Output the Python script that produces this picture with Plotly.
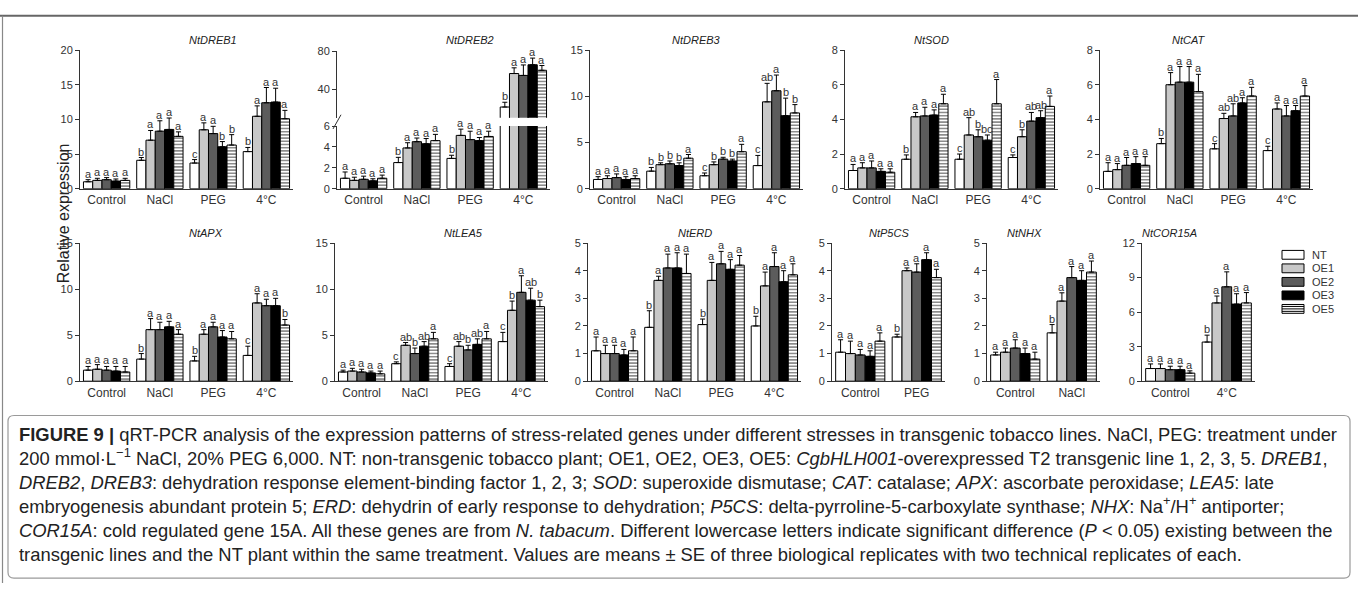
import plotly.graph_objects as go

W, H = 1358, 589

# ---------------- data ----------------
LINES = ["NT", "OE1", "OE2", "OE3", "OE5"]
CATS_ALL = ["Control", "NaCl", "PEG", "4°C"]
CATS_P5CS = ["Control", "PEG"]
CATS_NHX = ["Control", "NaCl"]
CATS_COR = ["Control", "4°C"]

# rows: NT, OE1, OE2, OE3, OE5 ; columns: categories
DREB1_MEAN = [[1.0, 4.1, 3.7, 5.35], [1.2, 7.0, 8.5, 10.45], [1.3, 8.3, 7.95, 12.4], [1.1, 8.55, 6.05, 12.5], [1.2, 7.55, 6.3, 10.1]]
DREB1_ERR = [[0.3, 0.4, 0.5, 0.6], [0.3, 1.4, 1.0, 1.5], [0.3, 1.5, 1.05, 2.2], [0.3, 1.65, 0.75, 2.0], [0.3, 0.65, 1.5, 1.2]]
DREB1_SIG = [["a", "b", "c", "b"], ["a", "a", "a", "a"], ["a", "a", "a", "a"], ["a", "a", "b", "a"], ["a", "a", "b", "a"]]

DREB2_MEAN = [[1.0, 2.5, 2.9, 21.2], [0.8, 3.9, 5.1, 56.4], [0.9, 4.5, 4.7, 54.4], [0.75, 4.3, 4.6, 65.6], [1.0, 4.6, 5.0, 59.8]]
DREB2_ERR = [[0.6, 0.5, 0.3, 5.0], [0.3, 0.5, 0.6, 6.0], [0.3, 0.35, 0.8, 11.0], [0.2, 0.5, 0.3, 7.0], [0.3, 0.6, 0.5, 5.0]]
DREB2_SIG = [["a", "b", "b", "b"], ["a", "a", "a", "a"], ["a", "a", "a", "a"], ["a", "a", "a", "a"], ["a", "a", "a", "a"]]

DREB3_MEAN = [[1.0, 1.9, 1.4, 2.5], [1.1, 2.6, 2.6, 9.4], [1.2, 2.7, 3.2, 10.6], [1.0, 2.5, 3.0, 7.9], [1.1, 3.3, 4.0, 8.2]]
DREB3_ERR = [[0.3, 0.4, 0.3, 1.1], [0.3, 0.2, 0.3, 2.0], [0.4, 0.3, 0.2, 1.7], [0.3, 0.3, 0.2, 1.9], [0.3, 0.4, 0.8, 0.9]]
DREB3_SIG = [["a", "b", "c", "c"], ["a", "b", "b", "ab"], ["a", "b", "b", "a"], ["a", "b", "b", "b"], ["a", "a", "a", "b"]]

SOD_MEAN = [[1.05, 1.7, 1.7, 1.8], [1.2, 4.15, 3.1, 3.0], [1.2, 4.2, 3.0, 3.9], [1.0, 4.25, 2.8, 4.1], [0.95, 4.9, 4.9, 4.75]]
SOD_ERR = [[0.35, 0.25, 0.3, 0.15], [0.3, 0.25, 1.0, 0.4], [0.4, 0.5, 0.4, 0.5], [0.15, 0.3, 0.3, 0.4], [0.2, 0.55, 1.4, 0.6]]
SOD_SIG = [["a", "b", "c", "c"], ["a", "a", "ab", "b"], ["a", "a", "b", "ab"], ["a", "a", "bc", "ab"], ["a", "a", "a", "a"]]

CAT_MEAN = [[1.0, 2.6, 2.3, 2.2], [1.1, 6.0, 4.05, 4.6], [1.35, 6.15, 4.2, 4.2], [1.45, 6.15, 4.95, 4.5], [1.35, 5.6, 5.35, 5.35]]
CAT_ERR = [[0.5, 0.3, 0.3, 0.25], [0.35, 0.7, 0.3, 0.35], [0.45, 0.9, 0.7, 0.6], [0.4, 0.9, 0.3, 0.3], [0.5, 1.0, 0.5, 0.6]]
CAT_SIG = [["a", "b", "c", "c"], ["a", "a", "ab", "a"], ["a", "a", "ab", "a"], ["a", "a", "a", "a"], ["a", "a", "a", "a"]]

APX_MEAN = [[1.2, 2.4, 2.2, 2.8], [1.3, 5.6, 5.1, 8.5], [1.2, 5.6, 5.9, 8.2], [1.1, 5.9, 4.8, 8.2], [1.0, 5.1, 4.6, 6.1]]
APX_ERR = [[0.4, 0.6, 0.5, 1.0], [0.5, 1.2, 0.5, 1.0], [0.4, 0.8, 0.5, 0.7], [0.5, 0.6, 0.7, 0.8], [0.6, 0.5, 0.8, 0.6]]
APX_SIG = [["a", "b", "b", "c"], ["a", "a", "a", "a"], ["a", "a", "a", "a"], ["a", "a", "a", "a"], ["a", "a", "a", "b"]]

LEA5_MEAN = [[1.0, 1.9, 1.6, 4.3], [1.1, 3.9, 3.8, 7.7], [1.0, 3.0, 3.4, 9.65], [0.9, 3.8, 4.0, 8.8], [0.8, 4.6, 4.6, 8.1]]
LEA5_ERR = [[0.2, 0.2, 0.3, 1.0], [0.3, 0.3, 0.5, 1.0], [0.3, 0.6, 0.5, 1.8], [0.2, 0.5, 0.6, 1.3], [0.3, 0.7, 0.8, 0.7]]
LEA5_SIG = [["a", "c", "c", "c"], ["a", "ab", "ab", "b"], ["a", "b", "b", "a"], ["a", "ab", "ab", "ab"], ["a", "a", "a", "b"]]

ERD_MEAN = [[1.1, 1.95, 2.05, 2.0], [1.0, 3.65, 3.65, 3.45], [1.0, 4.1, 4.25, 4.15], [0.95, 4.1, 4.05, 3.6], [1.1, 3.9, 4.2, 3.85]]
ERD_ERR = [[0.5, 0.6, 0.2, 0.35], [0.3, 0.15, 0.65, 0.5], [0.3, 0.5, 0.45, 0.5], [0.2, 0.55, 0.35, 0.4], [0.5, 0.7, 0.35, 0.4]]
ERD_SIG = [["a", "b", "b", "b"], ["a", "a", "a", "a"], ["a", "a", "a", "a"], ["a", "a", "a", "a"], ["a", "a", "a", "a"]]

P5CS_MEAN = [[1.05, 1.6], [1.0, 4.0], [0.95, 3.95], [0.9, 4.4], [1.45, 3.75]]
P5CS_ERR = [[0.45, 0.1], [0.45, 0.1], [0.2, 0.3], [0.2, 0.25], [0.3, 0.3]]
P5CS_SIG = [["a", "b"], ["a", "a"], ["a", "a"], ["a", "a"], ["a", "a"]]

NHX_MEAN = [[0.95, 1.75], [1.05, 2.9], [1.2, 3.75], [1.0, 3.65], [0.8, 3.95]]
NHX_ERR = [[0.1, 0.3], [0.15, 0.3], [0.3, 0.4], [0.2, 0.35], [0.25, 0.4]]
NHX_SIG = [["a", "b"], ["a", "a"], ["a", "a"], ["a", "a"], ["a", "a"]]

COR_MEAN = [[1.1, 3.4], [1.1, 6.8], [1.0, 8.2], [1.0, 6.7], [0.7, 6.8]]
COR_ERR = [[0.4, 0.6], [0.4, 0.6], [0.3, 1.3], [0.3, 0.9], [0.2, 0.9]]
COR_SIG = [["a", "b"], ["a", "a"], ["a", "a"], ["a", "a"], ["a", "a"]]

CAPTION = [
    "<b>FIGURE 9 |</b> qRT-PCR analysis of the expression patterns of stress-related genes under different stresses in transgenic tobacco lines. NaCl, PEG: treatment under",
    "200 mmol·L<sup>−1</sup> NaCl, 20% PEG 6,000. NT: non-transgenic tobacco plant; OE1, OE2, OE3, OE5: <i>CgbHLH001</i>-overexpressed T2 transgenic line 1, 2, 3, 5. <i>DREB1</i>,",
    "<i>DREB2</i>, <i>DREB3</i>: dehydration response element-binding factor 1, 2, 3; <i>SOD</i>: superoxide dismutase; <i>CAT</i>: catalase; <i>APX</i>: ascorbate peroxidase; <i>LEA5</i>: late",
    "embryogenesis abundant protein 5; <i>ERD</i>: dehydrin of early response to dehydration; <i>P5CS</i>: delta-pyrroline-5-carboxylate synthase; <i>NHX</i>: Na<sup>+</sup>/H<sup>+</sup> antiporter;",
    "<i>COR15A</i>: cold regulated gene 15A. All these genes are from <i>N. tabacum</i>. Different lowercase letters indicate significant difference (<i>P</i> &lt; 0.05) existing between the",
    "transgenic lines and the NT plant within the same treatment. Values are means ± SE of three biological replicates with two technical replicates of each.",
]

# ---------------- styles / layout ----------------
FONT = "Arial, Liberation Sans, Helvetica, sans-serif"
FILL = ["#ffffff", "#c8c8c8", "#5c5c5c", "#000000", "#ffffff"]
PATTERN = ["", "", "", "", "-"]
AXC = "#333333"
BARGAP = 0.13

TOP = (186.5, 45.0)   # pixel y of zero, pixel y of axis maximum
BOT = (383.0, 242.0)

# title, cats, mean, err, sig, ymax, dtick, x-left px, x-right px, row
PANELS = [
    ("NtDREB1", CATS_ALL, DREB1_MEAN, DREB1_ERR, DREB1_SIG, 20, 5, 80, 293, TOP),
    ("NtDREB2", CATS_ALL, DREB2_MEAN, DREB2_ERR, DREB2_SIG, None, None, 337, 550, TOP),
    ("NtDREB3", CATS_ALL, DREB3_MEAN, DREB3_ERR, DREB3_SIG, 15, 5, 590, 803, TOP),
    ("NtSOD", CATS_ALL, SOD_MEAN, SOD_ERR, SOD_SIG, 8, 2, 845, 1058, TOP),
    ("NtCAT", CATS_ALL, CAT_MEAN, CAT_ERR, CAT_SIG, 8, 2, 1100, 1313, TOP),
    ("NtAPX", CATS_ALL, APX_MEAN, APX_ERR, APX_SIG, 15, 5, 80, 293, BOT),
    ("NtLEA5", CATS_ALL, LEA5_MEAN, LEA5_ERR, LEA5_SIG, 15, 5, 335, 548, BOT),
    ("NtERD", CATS_ALL, ERD_MEAN, ERD_ERR, ERD_SIG, 5, 1, 588, 801, BOT),
    ("NtP5CS", CATS_P5CS, P5CS_MEAN, P5CS_ERR, P5CS_SIG, 5, 1, 832, 945, BOT),
    ("NtNHX", CATS_NHX, NHX_MEAN, NHX_ERR, NHX_SIG, 5, 1, 987, 1100, BOT),
    ("NtCOR15A", CATS_COR, COR_MEAN, COR_ERR, COR_SIG, 12, 3, 1142, 1255, BOT),
]

# broken axis of NtDREB2: lower segment / upper segment
DREB2_LOW = (0, 6, 2)
DREB2_HIGH = (10, 80, [40, 80])
DREB2_LOW_TOP_PX = 122.5
DREB2_HIGH_BOT_PX = 114.0
DREB2_HIGH_TOP_PX = 46.0

LEGEND_X, LEGEND_Y0, LEGEND_DY = 1282, 254, 13.8


def px(x):
    return x / W


def py(y):
    return 1 - y / H


fig = go.Figure()
layout = {}
annotations = []
shapes = []
counter = {"x": 0, "y": 0}


def new_axis(kind):
    counter[kind] += 1
    n = counter[kind]
    return ("%s%d" % (kind, n)) if n > 1 else kind, ("%saxis%d" % (kind, n)) if n > 1 else ("%saxis" % kind)


def yaxis_style(dom, rng, **kw):
    d = dict(domain=dom, range=rng, showline=True, linecolor=AXC, linewidth=1,
             ticks="outside", ticklen=4, tickwidth=1, tickcolor=AXC,
             tickfont=dict(family=FONT, size=11, color=AXC),
             showgrid=False, zeroline=False, fixedrange=True)
    d.update(kw)
    return d


for (title, cats, mean, err, sig, ymax, dtick, x0, x1, row) in PANELS:
    xid, xkey = new_axis("x")
    yid, ykey = new_axis("y")
    n = len(cats)
    layout[xkey] = dict(domain=[px(x0), px(x1)], anchor=yid, type="category",
                        categoryorder="array", categoryarray=cats, range=[-0.5, n - 0.5],
                        showline=True, linecolor=AXC, linewidth=1, ticks="",
                        tickfont=dict(family=FONT, size=12, color=AXC),
                        showgrid=False, zeroline=False, fixedrange=True)
    split = ymax is None
    if not split:
        layout[ykey] = yaxis_style([py(row[0]), py(row[1])], [0, ymax], dtick=dtick, tick0=0)
        yrefs = [(yid, 0, ymax)]
    else:
        layout[ykey] = yaxis_style([py(row[0]), py(DREB2_LOW_TOP_PX)], [DREB2_LOW[0], DREB2_LOW[1]],
                                   dtick=DREB2_LOW[2], tick0=0)
        yid2, ykey2 = new_axis("y")
        layout[ykey2] = yaxis_style([py(DREB2_HIGH_BOT_PX), py(DREB2_HIGH_TOP_PX)],
                                    [DREB2_HIGH[0], DREB2_HIGH[1]], tickmode="array",
                                    tickvals=DREB2_HIGH[2], anchor=xid)
        yrefs = [(yid, DREB2_LOW[0], DREB2_LOW[1]), (yid2, DREB2_HIGH[0], DREB2_HIGH[1])]
        # break mark
        shapes.append(dict(type="line", xref="paper", yref="paper",
                           x0=px(x0 - 4), y0=py(DREB2_LOW_TOP_PX + 3), x1=px(x0 + 4), y1=py(DREB2_HIGH_BOT_PX - 3),
                           line=dict(color=AXC, width=1)))
    layout[ykey]["anchor"] = xid

    for k, (yr, lo, hi) in enumerate(yrefs):
        for i, line in enumerate(LINES):
            marker = dict(color=FILL[i], line=dict(color="black", width=1))
            if PATTERN[i]:
                marker["pattern"] = dict(shape=PATTERN[i], fgcolor="black", bgcolor="white",
                                         size=3.2, solidity=0.45)
            fig.add_trace(go.Bar(
                x=cats, y=mean[i], name=line, showlegend=False,
                marker=marker,
                error_y=dict(type="data", symmetric=False, array=err[i], arrayminus=[0] * n,
                             color="black", thickness=1, width=2.5),
                xaxis=xid, yaxis=yr, hoverinfo="skip"))

    # significance letters
    bw = (x1 - x0) / n * (1 - BARGAP) / 5
    for i in range(5):
        for j in range(n):
            top = mean[i][j] + err[i][j]
            yr = yrefs[0][0]
            if split and top > DREB2_LOW[1]:
                yr = yrefs[1][0]
            annotations.append(dict(x=cats[j], y=top, xref=xid, yref=yr, text=sig[i][j],
                                    showarrow=False, yanchor="bottom", xanchor="center",
                                    xshift=(i - 2) * bw, yshift=-2,
                                    font=dict(family=FONT, size=11, color=AXC)))
    # panel title
    annotations.append(dict(x=px((x0 + x1) / 2), y=py(row[1] - 10), xref="paper", yref="paper",
                            text="<i>%s</i>" % title, showarrow=False, yanchor="middle",
                            font=dict(family=FONT, size=11, color="#222")))

# legend (drawn as layout shapes + labels)
for i, line in enumerate(LINES):
    yc = LEGEND_Y0 + i * LEGEND_DY
    sx0, sx1, sy0, sy1 = LEGEND_X, LEGEND_X + 22, yc - 4.5, yc + 4.5
    shapes.append(dict(type="rect", xref="paper", yref="paper", x0=px(sx0), x1=px(sx1),
                       y0=py(sy1), y1=py(sy0), fillcolor=FILL[i], line=dict(color="black", width=1)))
    if PATTERN[i]:
        for yy in (yc - 2.5, yc, yc + 2.5):
            shapes.append(dict(type="line", xref="paper", yref="paper", x0=px(sx0), x1=px(sx1),
                               y0=py(yy), y1=py(yy), line=dict(color="black", width=1)))
    annotations.append(dict(x=px(sx1 + 6), y=py(yc), xref="paper", yref="paper", text=line,
                            showarrow=False, xanchor="left", yanchor="middle",
                            font=dict(family=FONT, size=11, color=AXC)))

# y-axis title
annotations.append(dict(x=px(53), y=py(212), xref="paper", yref="paper", text="Relative expression",
                        textangle=-90, showarrow=False, font=dict(family=FONT, size=16, color="#222")))

# caption (one block, plotly line spacing 1.3 em)
CAP_SIZE = 18.4
CAP_Y0 = 437
CAP_DY = CAP_SIZE * 1.3
cap_center = CAP_Y0 + CAP_DY * (len(CAPTION) - 1) / 2
annotations.append(dict(x=px(17), y=py(cap_center + 2), xref="paper", yref="paper",
                        text="<br>".join(CAPTION), showarrow=False, xanchor="left", yanchor="middle",
                        align="left", font=dict(family=FONT, size=CAP_SIZE, color="#222")))

# caption frame (rounded), top rule and left rule
bx0, by0, bx1, by1, r = 8, 418, 1350, 584, 6
path = ("M {a},{b} L {c},{b} Q {e},{b} {e},{f} L {e},{g} Q {e},{h} {c},{h} L {a},{h} Q {i},{h} {i},{g} "
        "L {i},{f} Q {i},{b} {a},{b} Z").format(
    a=px(bx0 + r), b=py(by0), c=px(bx1 - r), e=px(bx1), f=py(by0 + r), g=py(by1 - r), h=py(by1), i=px(bx0))
shapes.append(dict(type="path", xref="paper", yref="paper", path=path,
                   line=dict(color="#9a9a9a", width=1.2)))
shapes.append(dict(type="line", xref="paper", yref="paper", x0=0, x1=1, y0=py(10), y1=py(10),
                   line=dict(color="#666666", width=2)))
shapes.append(dict(type="line", xref="paper", yref="paper", x0=px(2.5), x1=px(2.5), y0=py(10), y1=0,
                   line=dict(color="#888888", width=1.2)))

fig.update_layout(
    **layout,
    width=W, height=H, margin=dict(l=0, r=0, t=0, b=0),
    paper_bgcolor="white", plot_bgcolor="white",
    barmode="group", bargap=BARGAP, bargroupgap=0,
    annotations=annotations, shapes=shapes,
    showlegend=False,
    font=dict(family=FONT),
)

fig.write_html("out.html", config={"displayModeBar": False},
               post_script="document.body.style.margin='0';document.body.style.overflow='hidden';")
